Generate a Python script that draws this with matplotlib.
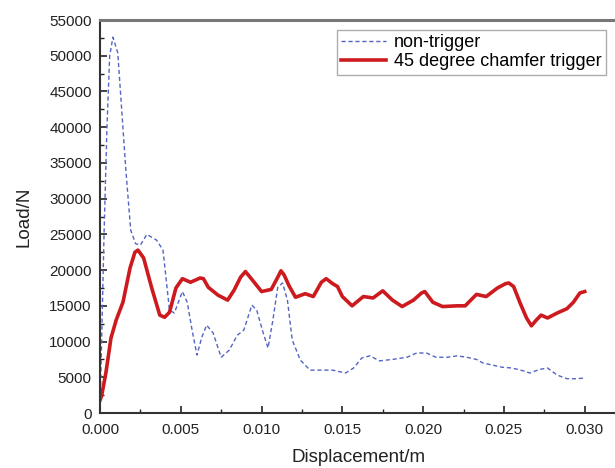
import numpy as np
import matplotlib
matplotlib.use('Agg')
import matplotlib.pyplot as plt
from matplotlib.ticker import MultipleLocator, FormatStrFormatter

# load-displacement curves (displacement in m, load in N)
disp_chamfer = [0.0, 0.0001, 0.00037, 0.00068, 0.0010, 0.00142, 0.00186, 0.00216,
                0.00235, 0.0027, 0.0032, 0.0037, 0.0040, 0.0043, 0.0047, 0.0051,
                0.0056, 0.0062, 0.0064, 0.0067, 0.0073, 0.0079, 0.0083, 0.0087,
                0.0090, 0.0094, 0.0100, 0.0106, 0.0110, 0.0112, 0.0114, 0.0117,
                0.0121, 0.0127, 0.0132, 0.0137, 0.0140, 0.0144, 0.0147, 0.0150,
                0.0156, 0.0163, 0.0169, 0.0175, 0.0181, 0.0187, 0.0194, 0.0199,
                0.0201, 0.0206, 0.0212, 0.0221, 0.0226, 0.0233, 0.0239, 0.0246,
                0.0251, 0.0253, 0.0256, 0.0260, 0.0264, 0.0267, 0.0270, 0.0273,
                0.0277, 0.0283, 0.0289, 0.0293, 0.0297, 0.0300]
load_chamfer = [1800, 2400, 5700, 10500, 13000, 15500, 20300, 22500,
                22800, 21700, 17500, 13700, 13400, 14100, 17500, 18800,
                18300, 18900, 18800, 17600, 16500, 15800, 17200, 19000,
                19800, 18700, 17000, 17300, 19000, 19900, 19300, 17800,
                16200, 16700, 16300, 18300, 18800, 18100, 17700, 16300,
                15000, 16300, 16100, 17100, 15800, 14900, 15800, 16800,
                17000, 15500, 14900, 15000, 15000, 16600, 16300, 17500,
                18100, 18200, 17700, 15400, 13300, 12200, 13000, 13700,
                13300, 14000, 14600, 15500, 16800, 17000]

disp_plain = [0.0, 0.00025, 0.00043, 0.0006, 0.0008, 0.0011, 0.0016, 0.0019,
              0.0022, 0.0025, 0.0029, 0.0035, 0.0039, 0.0041, 0.0043, 0.0046,
              0.0051, 0.0054, 0.0057, 0.0060, 0.0063, 0.0066, 0.0070, 0.0075,
              0.0080, 0.0085, 0.0089, 0.0094, 0.0097, 0.0101, 0.0104, 0.0107,
              0.0110, 0.0113, 0.0116, 0.0119, 0.0124, 0.0130, 0.0138, 0.0144,
              0.0152, 0.0157, 0.0162, 0.0167, 0.0173, 0.0181, 0.0190, 0.0196,
              0.0202, 0.0208, 0.0215, 0.0221, 0.0227, 0.0233, 0.0237, 0.0243,
              0.0249, 0.0255, 0.0262, 0.0266, 0.0272, 0.0277, 0.0283, 0.0289,
              0.0295, 0.0300]
load_plain = [0, 25000, 40000, 50000, 52600, 50400, 34000, 25600,
              23700, 23500, 25000, 24200, 22800, 18600, 14400, 14000,
              17000, 15500, 11600, 8100, 10600, 12300, 11200, 7800,
              8800, 10900, 11600, 15100, 14400, 11200, 9100, 13000,
              17600, 18200, 15800, 10200, 7400, 6000, 6000, 6000,
              5600, 6300, 7700, 8000, 7300, 7500, 7800, 8400,
              8400, 7800, 7800, 8000, 7800, 7500, 7000, 6700,
              6400, 6300, 5900, 5600, 6100, 6300, 5300, 4800,
              4800, 4900]

plt.rcParams['font.family'] = ['Liberation Sans', 'DejaVu Sans']

fig = plt.figure(figsize=(6.15, 4.68), dpi=100)
ax = fig.add_axes([0.1626, 0.1175, 0.8407, 0.8397])

ax.plot(disp_plain, load_plain, color='#5464c4', lw=1.0, dashes=(3, 2),
        label='non-trigger')
ax.plot(disp_chamfer, load_chamfer, color='#cc1a1f', lw=2.6,
        solid_joinstyle='round', label='45 degree chamfer trigger')

ax.set_xlim(0, 0.032)
ax.set_ylim(0, 55000)
ax.xaxis.set_major_locator(MultipleLocator(0.005))
ax.xaxis.set_minor_locator(MultipleLocator(0.0025))
ax.yaxis.set_major_locator(MultipleLocator(5000))
ax.yaxis.set_minor_locator(MultipleLocator(2500))
ax.xaxis.set_major_formatter(FormatStrFormatter('%.3f'))
ax.tick_params(which='both', direction='in', top=False, right=False,
               labelsize=11, colors='#222222')
ax.tick_params(which='major', length=5, width=1.2)
ax.tick_params(axis='y', which='major', pad=6)
ax.tick_params(axis='x', which='major', pad=7)
ax.tick_params(which='minor', length=3, width=1.0)

for side in ('left', 'bottom'):
    ax.spines[side].set_linewidth(1.5)
    ax.spines[side].set_color('#333333')
ax.spines['top'].set_linewidth(2.2)
ax.spines['top'].set_color('#777777')
ax.spines['right'].set_visible(False)

ax.set_xlabel('Displacement/m', fontsize=13.5, color='#222222', labelpad=9)
ax.set_ylabel('Load/N', fontsize=13.5, color='#222222', labelpad=12)

leg = ax.legend(loc='upper left', bbox_to_anchor=(0.458, 0.975), fontsize=13,
                fancybox=False, handlelength=2.5, borderpad=0.25,
                labelspacing=0.1, handletextpad=0.4, borderaxespad=0)
leg.get_frame().set_edgecolor('#999999')
leg.get_frame().set_linewidth(1.0)

plt.savefig('out.png', dpi=100)
